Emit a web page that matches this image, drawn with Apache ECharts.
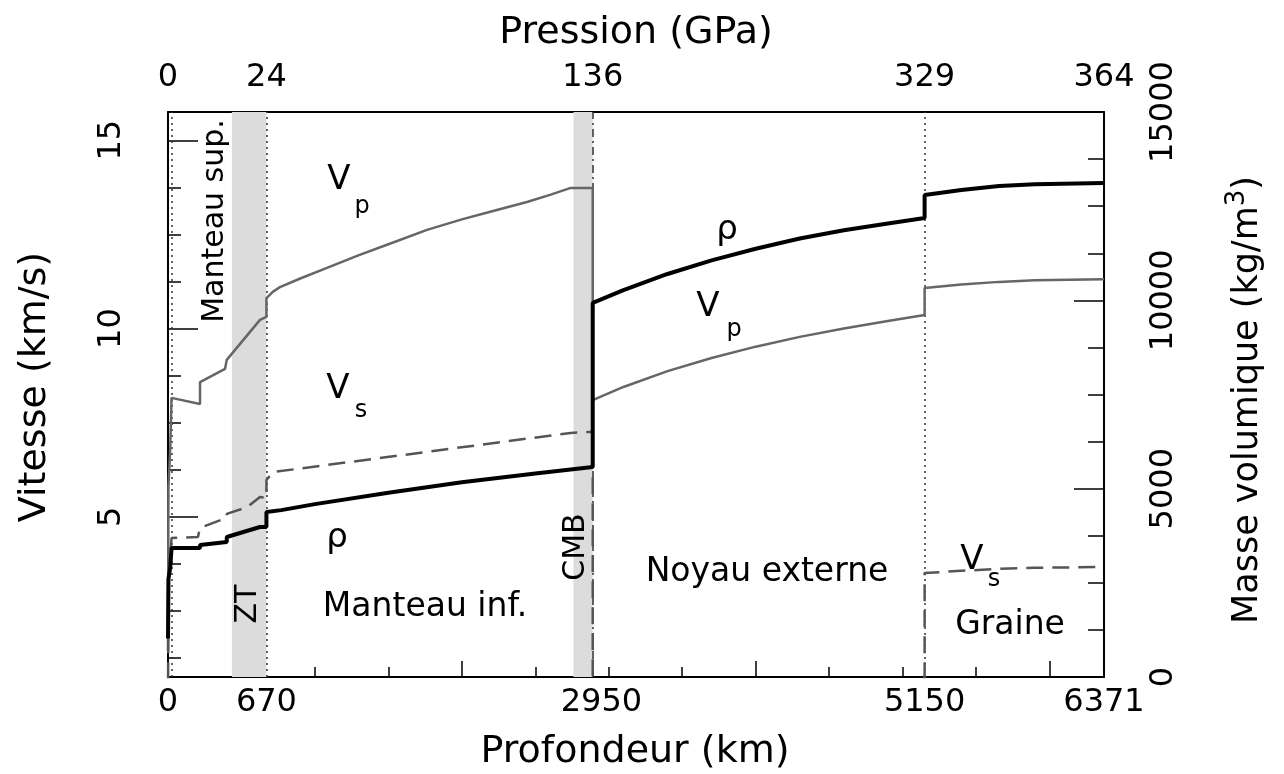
<!DOCTYPE html>
<html>
<head>
<meta charset="utf-8">
<script src="https://cdn.jsdelivr.net/npm/echarts@6/dist/echarts.min.js"></script>
<style>
  html, body { margin: 0; padding: 0; background: #fff; }
  #chart { width: 1284px; height: 774px; }
</style>
</head>
<body>
<div id="chart"></div>
<script>
// values: depth in km, velocity in km/s, density in kg/m3
const vpDepth = [0, 3, 3, 15, 15, 24, 24, 218, 218, 388, 400, 626, 670, 670, 715, 762, 900, 1082, 1300, 1500, 1763, 2000, 2200, 2443, 2600, 2736, 2891,
  2891, 3100, 3400, 3700, 4000, 4300, 4600, 4900, 5150, 5150, 5400, 5657, 5900, 6371];
const vpValue = [1.45, 1.45, 5.8, 5.8, 6.8, 6.8, 8.16, 8.0, 8.58, 8.93, 9.17, 10.23, 10.31, 10.81, 10.98, 11.1, 11.33, 11.61, 11.95, 12.24, 12.62, 12.9, 13.11, 13.36, 13.55, 13.73, 13.73,
  8.1, 8.45, 8.87, 9.22, 9.52, 9.78, 10.0, 10.2, 10.36, 11.08, 11.17, 11.24, 11.28, 11.31];

const vsDepth = [0, 3, 3, 15, 15, 24, 24, 204, 218, 400, 400, 538, 626, 670, 670, 715, 2741, 2891, 2891];
const vsValue = [0, 0, 3.2, 3.2, 3.9, 3.9, 4.44, 4.47, 4.71, 4.98, 5.08, 5.26, 5.53, 5.5, 5.98, 6.19, 7.23, 7.26, 0];

const vsCoreDepth = [5150, 5150, 5400, 5657, 5900, 6371];
const vsCoreValue = [0, 3.51, 3.57, 3.62, 3.65, 3.67];

const rhoDepth = [0, 3, 3, 15, 15, 24, 24, 218, 218, 400, 400, 626, 670, 670, 771, 1000, 1500, 2000, 2500, 2891,
  2891, 3100, 3400, 3700, 4000, 4300, 4600, 4900, 5150, 5150, 5400, 5657, 5900, 6371];
const rhoValue = [1020, 1020, 2600, 2600, 2900, 2900, 3425, 3425, 3505, 3584, 3717, 3983, 3983, 4381, 4430, 4590, 4890, 5170, 5400, 5576,
  9930, 10270, 10700, 11060, 11370, 11640, 11860, 12040, 12186, 12797, 12930, 13036, 13080, 13116];

const depthLabels = [0, 670, 2950, 5150, 6371];
const pressureDepths = [0, 670, 2891, 5150, 6371];
const pressureLabels = ['0', '24', '136', '329', '364'];
const depthMajorTicks = [2000, 4000, 6000];
const depthMinorTicks = [500, 1000, 1500, 2500, 3000, 3500, 4500, 5000, 5500];
const velMajor = [5, 10, 15];
const velMinor = [1.25, 2.5, 3.75, 6.25, 7.5, 8.75, 11.25, 12.5, 13.75];
const rhoLabels = [0, 5000, 10000, 15000];
const rhoMajor = [5000, 10000];
const rhoMinor = [1250, 2500, 3750, 6250, 7500, 8750, 11250, 12500, 13750];

const boundaries = [24, 670, 2891, 5150];
const shadedZones = [[435, 670], [2760, 2891]];

const pairs = (xs, ys) => xs.map((x, i) => [x, ys[i]]);

const FONT = 'DejaVu Sans';
const black = { color: '#000', width: 2 };
const plain = (v) => String(v);
const labelStyle = { color: '#000', fontFamily: FONT, fontSize: 32 };

function txt(text, x, y, size, rot) {
  return {
    type: 'text', x: x, y: y, rotation: rot ? Math.PI / 2 : 0, z: 100,
    style: { text: text, fill: '#000', fontFamily: FONT, fontSize: size, textAlign: 'center', textVerticalAlign: 'middle' }
  };
}

// axis that only draws a set of inward ticks
function tickAxis(position, min, max, values, len) {
  return {
    type: 'value', position: position, min: min, max: max,
    axisLine: { show: false, onZero: false },
    axisTick: { show: true, inside: true, length: len, lineStyle: { color: '#000', width: 1.5 }, customValues: values },
    axisLabel: { show: false },
    splitLine: { show: false }
  };
}

const chart = echarts.init(document.getElementById('chart'));

chart.setOption({
  animation: false,
  backgroundColor: '#fff',
  grid: { left: 168, right: 180, top: 112, bottom: 97 },
  xAxis: [
    {
      type: 'value', position: 'bottom', min: 0, max: 6371,
      axisLine: { onZero: false, lineStyle: black },
      axisTick: { show: false },
      axisLabel: Object.assign({ customValues: depthLabels, margin: 10, formatter: plain }, labelStyle),
      splitLine: { show: false }
    },
    {
      type: 'value', position: 'top', min: 0, max: 6371,
      axisLine: { onZero: false, lineStyle: black },
      axisTick: { show: false },
      axisLabel: Object.assign({
        customValues: pressureDepths, margin: 18,
        formatter: (v) => pressureLabels[pressureDepths.indexOf(v)]
      }, labelStyle),
      splitLine: { show: false }
    },
    tickAxis('bottom', 0, 6371, depthMajorTicks, 16),
    tickAxis('bottom', 0, 6371, depthMinorTicks, 10)
  ],
  yAxis: [
    {
      type: 'value', position: 'left', min: 0.75, max: 15.75,
      axisLine: { onZero: false, lineStyle: black },
      axisTick: { show: false },
      axisLabel: Object.assign({ customValues: velMajor, rotate: 90, margin: 40, formatter: plain }, labelStyle),
      splitLine: { show: false }
    },
    tickAxis('left', 0.75, 15.75, velMajor, 30),
    tickAxis('left', 0.75, 15.75, velMinor, 13),
    {
      type: 'value', position: 'right', min: 0, max: 15000,
      axisLine: { onZero: false, lineStyle: black },
      axisTick: { show: false },
      axisLabel: Object.assign({ customValues: rhoLabels, rotate: 90, margin: 44, formatter: plain }, labelStyle),
      splitLine: { show: false }
    },
    tickAxis('right', 0, 15000, rhoMajor, 30),
    tickAxis('right', 0, 15000, rhoMinor, 16)
  ],
  series: [
    {
      name: 'Vp', type: 'line', xAxisIndex: 0, yAxisIndex: 0,
      data: pairs(vpDepth, vpValue), symbol: 'none', z: 3,
      lineStyle: { color: '#666', width: 2.5 },
      markArea: {
        silent: true,
        itemStyle: { color: '#dcdcdc' },
        data: shadedZones.map(z => [{ xAxis: z[0] }, { xAxis: z[1] }])
      },
      markLine: {
        silent: true, symbol: ['none', 'none'], label: { show: false }, z: 1,
        data: boundaries.map(d => ({
          xAxis: d,
          lineStyle: { color: '#333', width: 1.5, type: d === 2891 ? [8, 4, 2, 4] : [2, 4] }
        }))
      }
    },
    {
      name: 'Vs', type: 'line', xAxisIndex: 0, yAxisIndex: 0,
      data: pairs(vsDepth, vsValue), symbol: 'none', z: 3,
      lineStyle: { color: '#555', width: 2.5, type: [17, 9] }
    },
    {
      name: 'Vs graine', type: 'line', xAxisIndex: 0, yAxisIndex: 0,
      data: pairs(vsCoreDepth, vsCoreValue), symbol: 'none', z: 3,
      lineStyle: { color: '#555', width: 2.5, type: [17, 9] }
    },
    {
      name: 'rho', type: 'line', xAxisIndex: 0, yAxisIndex: 3,
      data: pairs(rhoDepth, rhoValue), symbol: 'none', z: 4,
      lineStyle: { color: '#000', width: 4 }
    }
  ],
  graphic: [
    txt('Pression (GPa)', 636, 33, 38),
    txt('Profondeur (km)', 635, 752, 38),
    txt('Vitesse (km/s)', 35, 387, 38, true),
    {
      type: 'text', x: 1248, y: 400, rotation: Math.PI / 2, z: 100,
      style: {
        text: '{a|Masse volumique (kg/m}{b|3}{a|)}',
        textAlign: 'center', textVerticalAlign: 'middle',
        rich: {
          a: { fontFamily: FONT, fontSize: 35, fill: '#000', color: '#000', lineHeight: 48 },
          b: { fontFamily: FONT, fontSize: 26, fill: '#000', color: '#000', verticalAlign: 'top' }
        }
      }
    },
    txt('Manteau sup.', 215, 221, 30, true),
    txt('ZT', 248, 604, 30, true),
    txt('CMB', 576, 547, 30, true),
    txt('Manteau inf.', 425, 607, 33),
    txt('Noyau externe', 767, 572, 33),
    txt('Graine', 1010, 625, 33),
    txt('V', 339, 180, 34), txt('p', 362, 207, 24),
    txt('V', 338, 389, 34), txt('s', 361, 411, 24),
    txt('\u03c1', 727, 230, 34),
    txt('V', 708, 307, 34), txt('p', 734, 330, 24),
    txt('\u03c1', 337, 538, 34),
    txt('V', 972, 560, 34), txt('s', 994, 580, 24)
  ]
});
</script>
</body>
</html>
